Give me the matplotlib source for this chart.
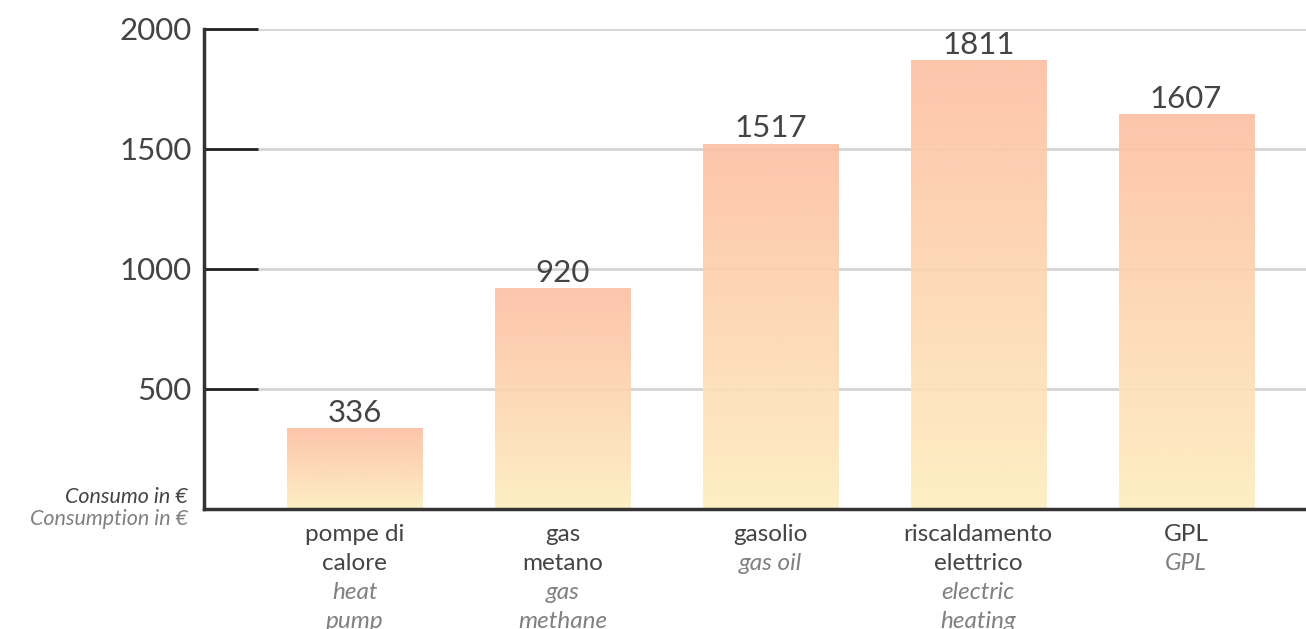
import matplotlib.pyplot as plt
import numpy as np
from matplotlib.colors import LinearSegmentedColormap

# data
categories_it = ["pompe di\ncalore", "gas\nmetano", "gasolio", "riscaldamento\nelettrico", "GPL"]
categories_en = ["heat\npump", "gas\nmethane", "gas oil", "electric\nheating", "GPL"]
value_labels = [336, 920, 1517, 1811, 1607]
bar_heights = [336, 920, 1522, 1870, 1645]
yticks = [500, 1000, 1500, 2000]

plt.rcParams['font.family'] = ['Lato', 'DejaVu Sans']

fig = plt.figure(figsize=(13.06, 6.29), dpi=100)
ax = fig.add_axes([204 / 1306, 120 / 629, 1 - 204 / 1306, 480 / 629])

x = np.arange(len(categories_it))

cmap = LinearSegmentedColormap.from_list("warm", ["#fdeec0", "#fdc0a6"])
grad = np.linspace(0, 1, 256).reshape(-1, 1)

bars = ax.bar(x, bar_heights, width=0.65, color="none", edgecolor="none", zorder=2)
for b, lab in zip(bars, value_labels):
    x0, w, h = b.get_x(), b.get_width(), b.get_height()
    im = ax.imshow(grad, extent=[x0, x0 + w, 0, h], origin="lower", cmap=cmap,
                   aspect="auto", zorder=2, alpha=0.93)
    im.set_clip_path(b)
    ax.annotate(str(lab), (x0 + w / 2, h), xytext=(0, 1), textcoords="offset points",
                ha="center", va="bottom", fontsize=22.5, color="#444444")

ax.set_xlim(-0.726, 4.577)
ax.set_ylim(0, 2000)

for t in yticks:
    ax.axhline(t, color="#d4d4d4", lw=2, zorder=1)

ax.set_yticks(yticks)
ax.set_yticklabels([str(t) for t in yticks], fontsize=22.5, color="#444444")
ax.tick_params(axis="y", direction="in", length=39, width=2, color="#222222", pad=9)
ax.set_xticks([])

for s in ["top", "right"]:
    ax.spines[s].set_visible(False)
for s in ["left", "bottom"]:
    ax.spines[s].set_linewidth(2.5)
    ax.spines[s].set_color("#333333")
    ax.spines[s].set_zorder(5)

# category labels under the axis, italian dark, english grey italic
px = 0.72
for xi, it, en in zip(x, categories_it, categories_en):
    lines = [(l, "#444444", "normal") for l in it.split("\n")] + \
            [(l, "#808080", "italic") for l in en.split("\n")]
    for i, (txt, col, sty) in enumerate(lines):
        ax.annotate(txt, (xi, 0), xycoords=("data", "axes fraction"),
                    xytext=(0, -(32 + i * 29) * px), textcoords="offset points",
                    ha="center", va="baseline", fontsize=17.5, color=col, style=sty,
                    annotation_clip=False)

fig.text(188 / 1306, 1 - 503 / 629, "Consumo in €", ha="right", va="baseline",
         fontsize=15.5, style="italic", color="#444444")
fig.text(188 / 1306, 1 - 525 / 629, "Consumption in €", ha="right", va="baseline",
         fontsize=15.5, style="italic", color="#808080")

fig.savefig("out.png", dpi=100)
